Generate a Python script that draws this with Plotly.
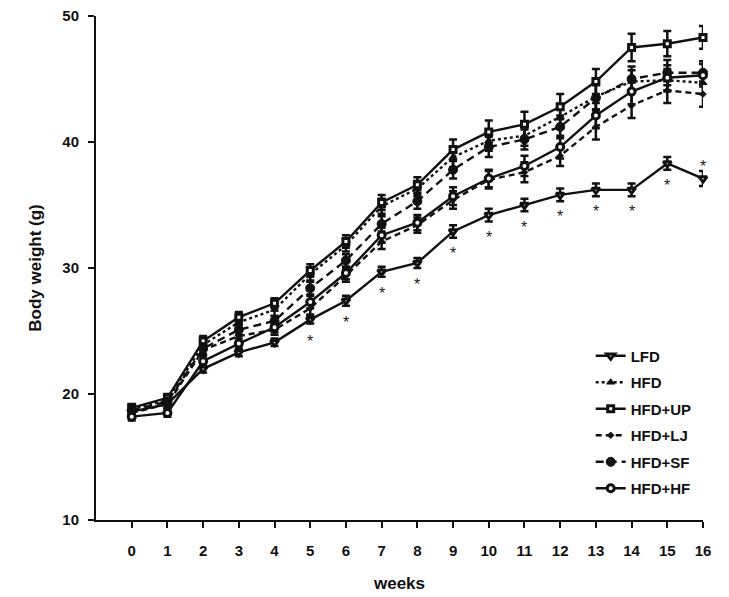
import plotly.graph_objects as go

weeks = list(range(17))
week_labels = [str(w) for w in weeks]

lfd = [18.6, 19.2, 22.0, 23.3, 24.1, 25.9, 27.4, 29.7, 30.4, 32.9, 34.2, 35.0, 35.8, 36.2, 36.2, 38.3, 37.1]
hfd = [18.8, 19.5, 23.9, 25.7, 26.7, 29.5, 31.8, 34.9, 36.3, 38.8, 40.1, 40.5, 42.0, 43.6, 44.8, 44.9, 44.7]
hfd_up = [18.9, 19.7, 24.2, 26.1, 27.2, 29.8, 32.1, 35.2, 36.6, 39.4, 40.8, 41.4, 42.8, 44.8, 47.5, 47.8, 48.3]
hfd_lj = [18.5, 19.2, 23.5, 24.6, 25.1, 26.8, 29.4, 32.1, 33.4, 35.4, 37.0, 37.6, 38.9, 41.2, 42.9, 44.1, 43.8]
hfd_sf = [18.7, 19.4, 23.6, 25.1, 25.8, 28.4, 30.6, 33.5, 35.3, 37.8, 39.6, 40.2, 41.2, 43.5, 45.0, 45.5, 45.5]
hfd_hf = [18.2, 18.5, 22.6, 24.0, 25.3, 27.3, 29.6, 32.6, 33.6, 35.7, 37.1, 38.1, 39.6, 42.1, 44.0, 45.1, 45.3]

err_lfd = [0.2, 0.3, 0.3, 0.3, 0.3, 0.3, 0.4, 0.4, 0.4, 0.5, 0.5, 0.5, 0.5, 0.5, 0.5, 0.5, 0.6]
err_hfd = [0.3, 0.3, 0.4, 0.4, 0.5, 0.5, 0.5, 0.6, 0.6, 0.8, 0.8, 0.8, 0.9, 1.0, 0.9, 0.9, 0.9]
err_up = [0.3, 0.3, 0.4, 0.4, 0.4, 0.5, 0.5, 0.6, 0.6, 0.8, 0.9, 1.0, 1.0, 1.0, 1.1, 1.0, 0.9]
err_lj = [0.3, 0.3, 0.4, 0.4, 0.4, 0.5, 0.5, 0.6, 0.6, 0.7, 0.7, 0.8, 0.8, 1.0, 1.0, 1.0, 1.0]
err_sf = [0.3, 0.3, 0.4, 0.4, 0.4, 0.5, 0.5, 0.6, 0.6, 0.7, 0.8, 0.8, 0.9, 1.0, 1.0, 1.0, 0.9]
err_hf = [0.3, 0.3, 0.4, 0.4, 0.4, 0.5, 0.5, 0.6, 0.6, 0.7, 0.7, 0.8, 0.9, 1.0, 1.0, 1.0, 0.9]

star_below_weeks = [5, 6, 7, 8, 9, 10, 11, 12, 13, 14, 15]
star_above_weeks = [16]

FONT = "Liberation Sans, Arial, sans-serif"
INK = "#111111"

series = [
    ("LFD", lfd, err_lfd, "solid", dict(symbol="triangle-down", size=7, color="white", line=dict(color=INK, width=3))),
    ("HFD", hfd, err_hfd, "dot", dict(symbol="triangle-up", size=7, color=INK, line=dict(color=INK, width=1))),
    ("HFD+UP", hfd_up, err_up, "solid", dict(symbol="square", size=6, color="white", line=dict(color=INK, width=3))),
    ("HFD+LJ", hfd_lj, err_lj, "6px,4px", dict(symbol="diamond", size=5, color=INK, line=dict(color=INK, width=1))),
    ("HFD+SF", hfd_sf, err_sf, "8px,5px", dict(symbol="circle", size=9, color=INK, line=dict(color=INK, width=1))),
    ("HFD+HF", hfd_hf, err_hf, "solid", dict(symbol="circle", size=7, color="white", line=dict(color=INK, width=3))),
]

fig = go.Figure()
for i, (name, vals, err, dash, marker) in enumerate(series):
    fig.add_trace(go.Scatter(
        x=weeks, y=vals, name=name, mode="lines+markers",
        line=dict(color=INK, width=2.4, dash=dash),
        marker=marker,
        error_y=dict(type="data", array=err, visible=True, color=INK, thickness=2.5, width=4),
        cliponaxis=False,
        legendgroup=f"g{i}",
    ))

for w in star_below_weeks:
    fig.add_annotation(x=w, y=lfd[w], text="*", showarrow=False, yshift=-22,
                       font=dict(family=FONT, size=16, color="#222222"))
for w in star_above_weeks:
    fig.add_annotation(x=w, y=lfd[w], text="*", showarrow=False, yshift=12,
                       font=dict(family=FONT, size=16, color="#222222"))

fig.update_layout(
    width=729, height=597,
    margin=dict(l=88, r=34, t=8, b=85),
    paper_bgcolor="white", plot_bgcolor="white",
    font=dict(family=FONT, color=INK),
    showlegend=True,
    legend=dict(x=0.815, y=0.358, xanchor="left", yanchor="top",
                font=dict(family=FONT, size=15, color=INK, weight="bold"),
                bgcolor="rgba(0,0,0,0)", tracegroupgap=4, itemwidth=30),
    xaxis=dict(range=[-1, 16], tickmode="array", tickvals=weeks, ticktext=week_labels,
               showline=True, linecolor=INK, linewidth=2, ticks="outside", ticklen=6,
               tickwidth=2, tickcolor=INK, showgrid=False, zeroline=False,
               ticklabelstandoff=10, automargin=False, ticklabeloverflow="allow",
               tickfont=dict(family=FONT, size=15, color=INK, weight="bold"),
               title=dict(text="weeks", font=dict(family=FONT, size=17, color=INK, weight="bold"), standoff=19)),
    yaxis=dict(range=[10, 50], tickmode="array", tickvals=[10, 20, 30, 40, 50],
               showline=True, linecolor=INK, linewidth=2, ticks="outside", ticklen=6,
               tickwidth=2, tickcolor=INK, showgrid=False, zeroline=False,
               automargin=False, ticklabelstandoff=6, ticklabeloverflow="allow",
               tickfont=dict(family=FONT, size=15, color=INK, weight="bold"),
               title=dict(text="Body weight (g)", font=dict(family=FONT, size=17, color=INK, weight="bold"), standoff=16)),
)

fig.write_html("out.html")
